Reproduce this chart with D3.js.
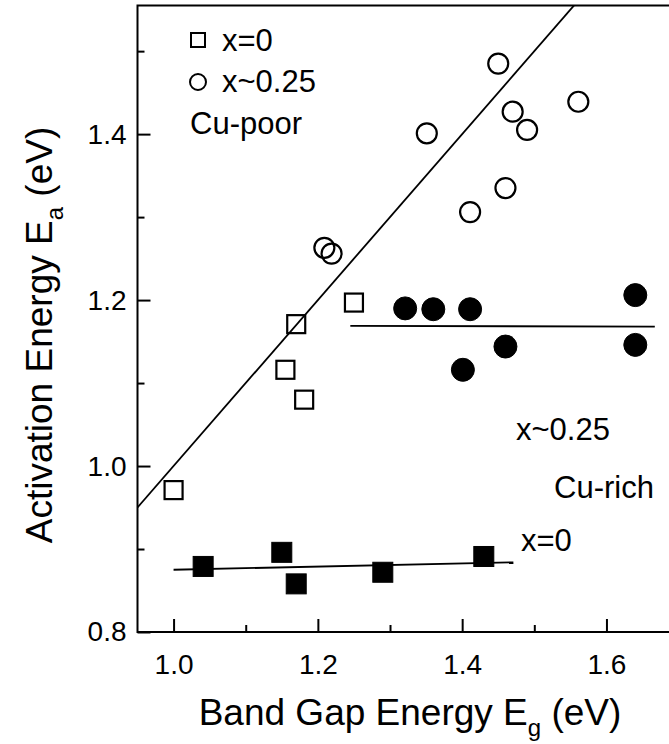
<!DOCTYPE html>
<html>
<head>
<meta charset="utf-8">
<script src="https://cdn.jsdelivr.net/npm/d3@7"></script>
<style>
  body { margin: 0; background: #fff; }
  svg text { font-family: "Liberation Sans", Arial, sans-serif; fill: #000; }
</style>
</head>
<body>
<div class="chart"></div>
<script>
// Data (Eg in eV, Ea in eV)

var openSquareX = [1.0, 1.155, 1.17, 1.181, 1.25];
var openSquareY = [0.971, 1.116, 1.171, 1.080, 1.197];

var openCircleX = [1.209, 1.219, 1.351, 1.411, 1.45, 1.46, 1.47, 1.49, 1.561];
var openCircleY = [1.263, 1.256, 1.401, 1.306, 1.485, 1.335, 1.427, 1.405, 1.439];

var filledSquareX = [1.041, 1.15, 1.17, 1.29, 1.43];
var filledSquareY = [0.879, 0.896, 0.858, 0.872, 0.891];

var filledCircleX = [1.321, 1.36, 1.401, 1.411, 1.46, 1.64, 1.64];
var filledCircleY = [1.190, 1.189, 1.116, 1.189, 1.144, 1.206, 1.146];

// fitted lines (end points)
var cuPoorFitX = [0.95, 1.6];
var cuPoorFitY = [0.95, 1.6];
var cuRichFitX = [1.245, 1.667];
var cuRichFitY = [1.169, 1.168];
var x0FitX = [1.0, 1.471];
var x0FitY = [0.875, 0.884];

var xMajorTicks = [1.0, 1.2, 1.4, 1.6];
var xMinorTicks = [1.1, 1.3, 1.5];
var yMajorTicks = [0.8, 1.0, 1.2, 1.4];
var yMinorTicks = [0.9, 1.1, 1.3, 1.5];

var svgWidth = 669;
var svgHeight = 744;

var svg = d3.select(".chart")
    .append("svg")
    .attr("width", svgWidth)
    .attr("height", svgHeight);

// scales
var xScale = d3.scaleLinear()
    .domain([0.95, 1.7])
    .range([137.5, 678.6]);

var yScale = d3.scaleLinear()
    .domain([0.8, 1.555])
    .range([632, 5.5]);

var x0 = xScale.range()[0], x1 = xScale.range()[1];
var y0 = yScale.range()[0], y1 = yScale.range()[1];

svg.append("clipPath")
    .attr("id", "plotClip")
    .append("rect")
    .attr("x", x0).attr("y", y1)
    .attr("width", x1 - x0).attr("height", y0 - y1);

// frame
svg.append("rect")
    .attr("x", x0).attr("y", y1)
    .attr("width", x1 - x0).attr("height", y0 - y1)
    .attr("fill", "none")
    .attr("stroke", "#000")
    .attr("stroke-width", 2);

// axes with inward ticks
var bottomAxis = d3.axisBottom(xScale)
    .tickValues(xMajorTicks)
    .tickSize(-13)
    .tickPadding(22)
    .tickFormat(d3.format(".1f"));

var bottomMinor = d3.axisBottom(xScale)
    .tickValues(xMinorTicks)
    .tickSize(-7)
    .tickFormat("");

var leftAxis = d3.axisLeft(yScale)
    .tickValues(yMajorTicks)
    .tickSize(-13)
    .tickPadding(11)
    .tickFormat(d3.format(".1f"));

var leftMinor = d3.axisLeft(yScale)
    .tickValues(yMinorTicks)
    .tickSize(-7)
    .tickFormat("");

function styleAxis(g) {
    g.select(".domain").remove();
    g.selectAll("line").attr("stroke", "#000").attr("stroke-width", 2);
    g.selectAll("text")
        .attr("font-size", "28px")
        .attr("font-family", "Liberation Sans, Arial, sans-serif")
        .attr("fill", "#000");
}

svg.append("g").attr("transform", "translate(0," + y0 + ")").call(bottomAxis).call(styleAxis);
svg.append("g").attr("transform", "translate(0," + y0 + ")").call(bottomMinor).call(styleAxis);
svg.append("g").attr("transform", "translate(" + x0 + ",0)").call(leftAxis).call(styleAxis);
svg.append("g").attr("transform", "translate(" + x0 + ",0)").call(leftMinor).call(styleAxis);

// fitted lines
var plot = svg.append("g").attr("clip-path", "url(#plotClip)");

var line = d3.line()
    .x(function(d) { return xScale(d[0]); })
    .y(function(d) { return yScale(d[1]); });

[[cuPoorFitX, cuPoorFitY], [cuRichFitX, cuRichFitY], [x0FitX, x0FitY]].forEach(function(f) {
    plot.append("path")
        .datum(d3.zip(f[0], f[1]))
        .attr("d", line)
        .attr("fill", "none")
        .attr("stroke", "#000")
        .attr("stroke-width", 1.8);
});

// markers
function drawSquares(xs, ys, size, filled) {
    plot.append("g").selectAll("rect")
        .data(d3.zip(xs, ys))
        .enter()
        .append("rect")
        .attr("x", function(d) { return xScale(d[0]) - size / 2; })
        .attr("y", function(d) { return yScale(d[1]) - size / 2; })
        .attr("width", size)
        .attr("height", size)
        .attr("fill", filled ? "#000" : "none")
        .attr("stroke", "#000")
        .attr("stroke-width", filled ? 1 : 2.2);
}

function drawCircles(xs, ys, r, filled) {
    plot.append("g").selectAll("circle")
        .data(d3.zip(xs, ys))
        .enter()
        .append("circle")
        .attr("cx", function(d) { return xScale(d[0]); })
        .attr("cy", function(d) { return yScale(d[1]); })
        .attr("r", r)
        .attr("fill", filled ? "#000" : "none")
        .attr("stroke", "#000")
        .attr("stroke-width", filled ? 1 : 2.2);
}

drawSquares(openSquareX, openSquareY, 18, false);
drawCircles(openCircleX, openCircleY, 10, false);
drawSquares(filledSquareX, filledSquareY, 20, true);
drawCircles(filledCircleX, filledCircleY, 11.5, true);

// legend
svg.append("rect")
    .attr("x", 191).attr("y", 33).attr("width", 14).attr("height", 14)
    .attr("fill", "none").attr("stroke", "#000").attr("stroke-width", 2);
svg.append("circle")
    .attr("cx", 198).attr("cy", 82).attr("r", 8)
    .attr("fill", "none").attr("stroke", "#000").attr("stroke-width", 2);

function label(x, y, t) {
    svg.append("text")
        .attr("x", x).attr("y", y)
        .attr("font-size", "31px")
        .text(t);
}

label(222, 51, "x=0");
label(222, 92, "x~0.25");
label(190, 134, "Cu-poor");
label(516, 440, "x~0.25");
label(554, 498, "Cu-rich");
label(521, 551, "x=0");

// axis titles
var xTitle = svg.append("text")
    .attr("x", 410)
    .attr("y", 725)
    .attr("text-anchor", "middle")
    .attr("font-size", "37px");
xTitle.append("tspan").text("Band Gap Energy E");
xTitle.append("tspan").attr("font-size", "24px").attr("dy", 11).text("g");
xTitle.append("tspan").attr("dy", -11).text(" (eV)");

var yTitle = svg.append("text")
    .attr("transform", "translate(52,335) rotate(-90)")
    .attr("text-anchor", "middle")
    .attr("font-size", "37px");
yTitle.append("tspan").text("Activation Energy E");
yTitle.append("tspan").attr("font-size", "24px").attr("dy", 11).text("a");
yTitle.append("tspan").attr("dy", -11).text(" (eV)");
</script>
</body>
</html>
